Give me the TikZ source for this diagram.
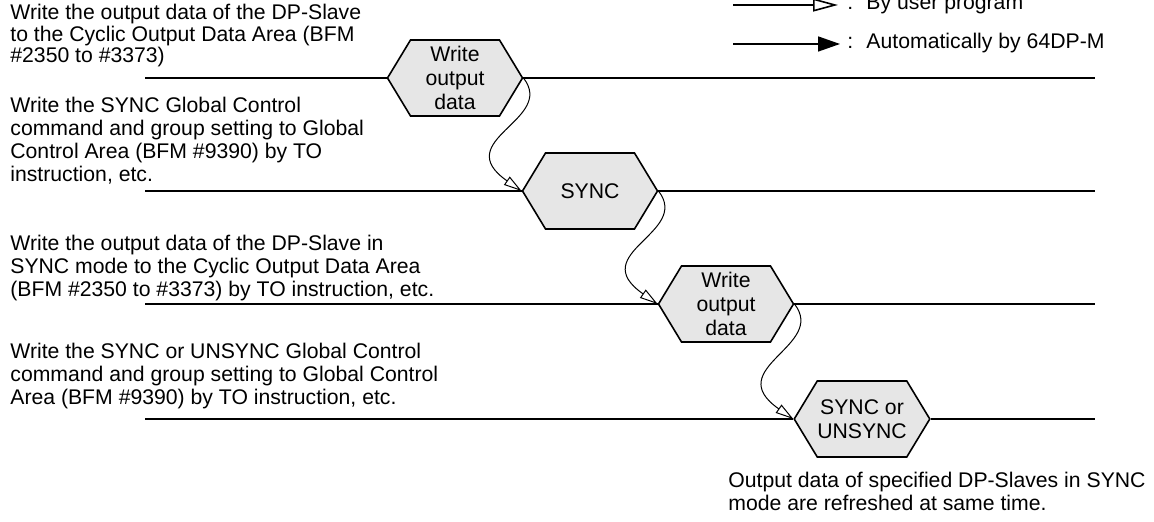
\documentclass[tikz,border=0pt]{standalone}
\usepackage{fontspec}
\setmainfont{Liberation Sans}
\usepackage{xcolor}
\usetikzlibrary{shapes.symbols,arrows.meta}

\definecolor{hexgray}{RGB}{230,230,230}

\begin{document}
\begin{tikzpicture}[
    x=0.5pt, y=-0.5pt,
    txt/.style={anchor=base west, align=left, inner sep=0pt,
                font=\fontsize{10.6}{11.5}\selectfont},
    hexa/.style={shape=signal, signal to=west and east, signal pointer angle=117.6,
                 draw, line width=0.8pt, fill=hexgray, inner sep=0pt,
                 minimum width=67.5pt, minimum height=38pt, align=center,
                 font=\fontsize{10.6}{12}\selectfont},
    tline/.style={line width=1pt},
    wave/.style={line width=0.5pt, -{Triangle[open, length=9pt, width=5pt]}}
]
\useasboundingbox (0,0) rectangle (1154,522);

% ================================================================
%  Steps on the left (placed by the baseline of their last line)
% ================================================================
\node[txt, font=\fontsize{10.6}{10.8}\selectfont] (t1) at (10,63) {Write the output data of the DP-Slave\\
    to the Cyclic Output Data Area (BFM\\\#2350 to \#3373)};
\node[txt] (t2) at (10,182) {Write the SYNC Global Control\\
    command and group setting to Global\\Control Area (BFM \#9390) by TO\\
    instruction, etc.};
\node[txt] (t3) at (10,297) {Write the output data of the DP-Slave in\\
    SYNC mode to the Cyclic Output Data Area\\
    (BFM \#2350 to \#3373) by TO instruction, etc.};
\node[txt] (t4) at (10,405) {Write the SYNC or UNSYNC Global Control\\
    command and group setting to Global Control\\
    Area (BFM \#9390) by TO instruction, etc.};

% ================================================================
%  Hexagons on the time lines
% ================================================================
\node[hexa] (w1) at (455,78)  {Write\\output\\data};
\node[hexa] (s1) at (590,191) {SYNC};
\node[hexa] (w2) at (726,304) {Write\\output\\data};
\node[hexa] (s2) at (862,419) {SYNC or\\UNSYNC};

\foreach \n/\y in {w1/78, s1/191, w2/304, s2/419} {
    \coordinate (\n-l) at (145,\y);
    \coordinate (\n-r) at (1095,\y);
    \draw[tline] (\n-l) -- (\n.west);
    \draw[tline] (\n.east) -- (\n-r);
}

% user program steps
\draw[wave] (w1.east) .. controls +(33,42) and +(-73,-51) .. (s1.west);
\draw[wave] (s1.east) .. controls +(33,42) and +(-73,-51) .. (w2.west);
\draw[wave] (w2.east) .. controls +(33,42) and +(-73,-51) .. (s2.west);

\node[txt] (note) at (728,510) {Output data of specified DP-Slaves in SYNC\\
    mode are refreshed at same time.};

% ================================================================
%  Legend
% ================================================================
\coordinate (lg1a) at (733,5);
\coordinate (lg1b) at (838,5);
\coordinate (lg2a) at (733,44);
\coordinate (lg2b) at (840,44);
\draw[line width=0.8pt, -{Triangle[open, length=12.5pt, width=6.5pt]}] (lg1a) -- (lg1b);
\draw[line width=0.8pt, -{Triangle[length=11pt, width=7.5pt]}] (lg2a) -- (lg2b);
\node[txt] (lg1t) at (847,10) {:\hspace{6.6pt}By user program};
\node[txt] (lg2t) at (847,49) {:\hspace{6.6pt}Automatically by 64DP-M};
\end{tikzpicture}
\end{document}
